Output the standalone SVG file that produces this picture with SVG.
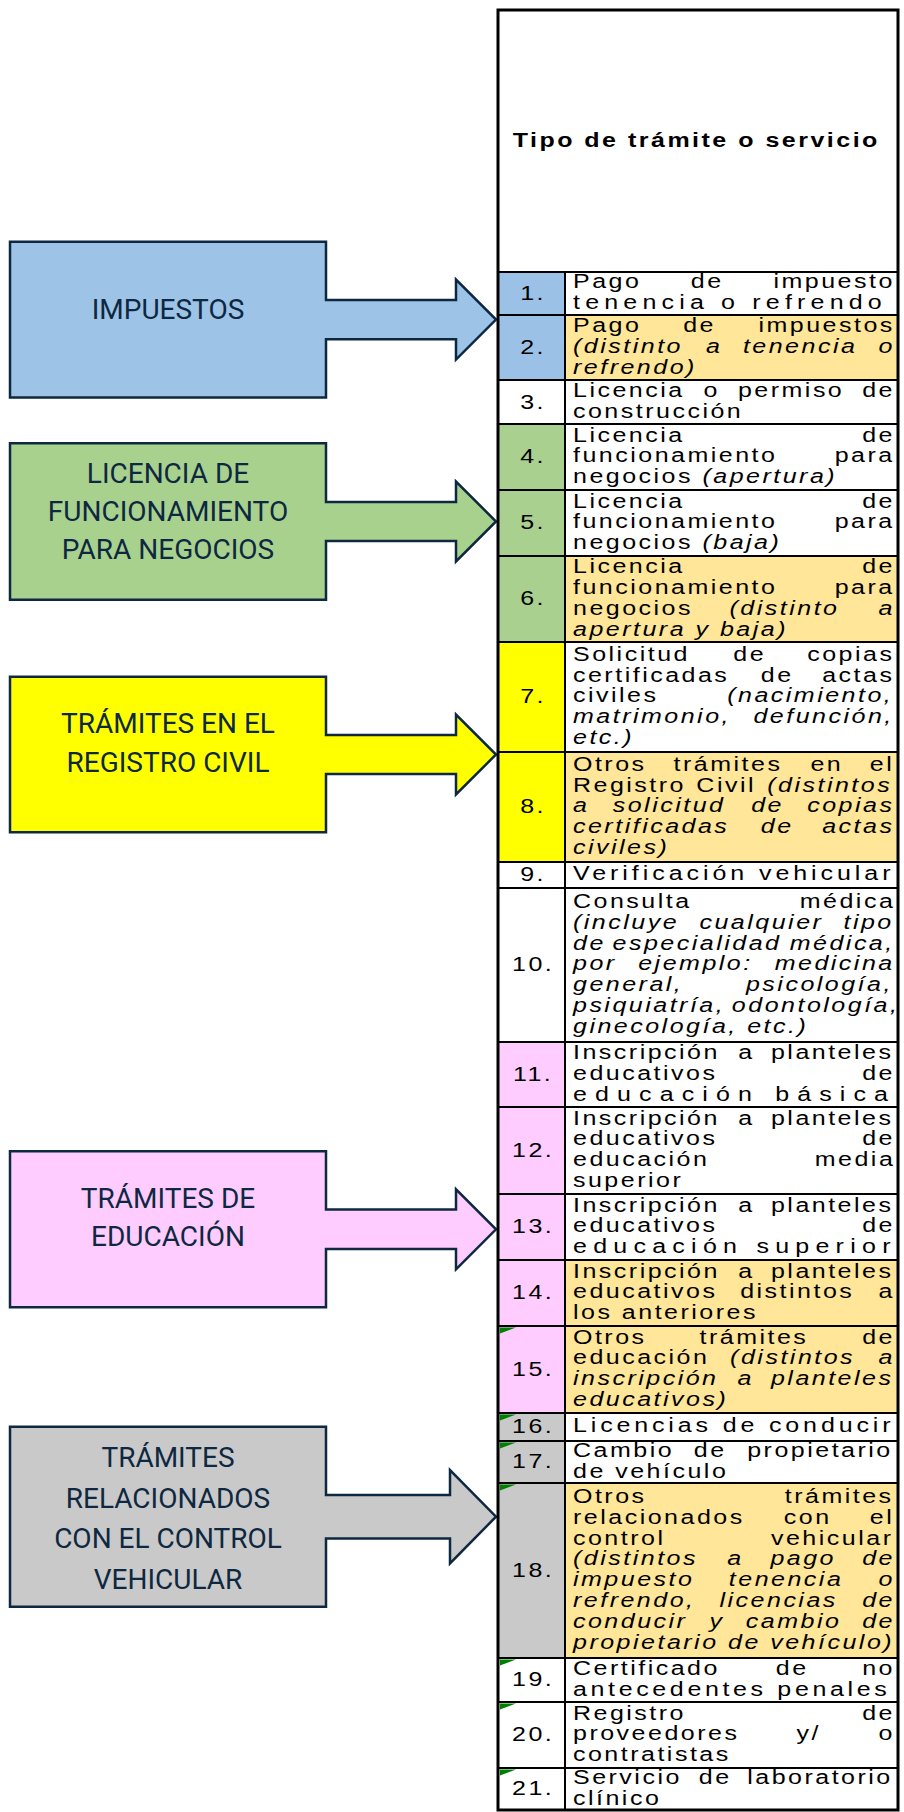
<svg xmlns="http://www.w3.org/2000/svg" width="904" height="1812" viewBox="0 0 904 1812">
<style>
.t{font-family:"Liberation Sans",Arial,sans-serif;font-size:20px;letter-spacing:2px;fill:#000}
.i{font-style:italic}
.n{text-anchor:middle}
.h{font-weight:bold;letter-spacing:2px;text-anchor:middle}
.bx{font-family:Roboto,"Liberation Sans",sans-serif;font-size:28px;fill:#0e2841;text-anchor:middle}
.co{stroke:#0e2841;stroke-width:2.5;stroke-linejoin:miter}
.ln{stroke:#000;stroke-width:2;fill:none}
.tri{fill:#008000}
</style>
<rect width="904" height="1812" fill="#fff"/>

<g id="callouts">
<g id="c-impuestos">
<polygon class="co" fill="#9dc3e6" points="10,241.7 326,241.7 326,300 456,300 456,279.6 496,319.6 456,359.6 456,339.2 326,339.2 326,397.5 10,397.5"/>
<text class="bx" x="168" y="318.5">IMPUESTOS</text>
</g>
<g id="c-licencia">
<polygon class="co" fill="#a9d18e" points="10,443.3 326,443.3 326,501.9 456,501.9 456,481.5 496,521.5 456,561.5 456,541.1 326,541.1 326,599.7 10,599.7"/>
<text class="bx" x="168" y="482.7">LICENCIA DE</text>
<text class="bx" x="168" y="520.7">FUNCIONAMIENTO</text>
<text class="bx" x="168" y="558.7">PARA NEGOCIOS</text>
</g>
<g id="c-registro">
<polygon class="co" fill="#ffff00" points="10,676.7 326,676.7 326,735 456,735 456,714.5 496,754.5 456,794.5 456,774 326,774 326,832.3 10,832.3"/>
<text class="bx" x="168" y="733.3">TRÁMITES EN EL</text>
<text class="bx" x="168" y="771.7">REGISTRO CIVIL</text>
</g>
<g id="c-educacion">
<polygon class="co" fill="#ffccff" points="10,1151.3 326,1151.3 326,1209.6 456,1209.6 456,1189.3 496,1229.3 456,1269.3 456,1249 326,1249 326,1307.3 10,1307.3"/>
<text class="bx" x="168" y="1207.7">TRÁMITES DE</text>
<text class="bx" x="168" y="1245.7">EDUCACIÓN</text>
</g>
<g id="c-vehicular">
<polygon class="co" fill="#c9c9c9" points="10,1426.7 326,1426.7 326,1495 450,1495 450,1470 496,1516.7 450,1563.4 450,1538.4 326,1538.4 326,1606.7 10,1606.7"/>
<text class="bx" x="168" y="1467">TRÁMITES</text>
<text class="bx" x="168" y="1507.5">RELACIONADOS</text>
<text class="bx" x="168" y="1548">CON EL CONTROL</text>
<text class="bx" x="168" y="1588.5">VEHICULAR</text>
</g>
</g>

<g id="table">
<g id="fills">
<rect x="498" y="272" width="67" height="108" fill="#9bc2e6"/>
<rect x="565" y="315" width="333" height="65" fill="#ffe699"/>
<rect x="498" y="424" width="67" height="218" fill="#a9d08e"/>
<rect x="565" y="556" width="333" height="86" fill="#ffe699"/>
<rect x="498" y="642" width="67" height="220" fill="#ffff00"/>
<rect x="565" y="752" width="333" height="110" fill="#ffe699"/>
<rect x="498" y="1042" width="67" height="371" fill="#ffccff"/>
<rect x="565" y="1260" width="333" height="153" fill="#ffe699"/>
<rect x="498" y="1413" width="67" height="245" fill="#c9c9c9"/>
<rect x="565" y="1483" width="333" height="175" fill="#ffe699"/>
</g>
<g id="grid">
<path class="ln" d="M498 272H898M498 315H898M498 380H898M498 424H898M498 490H898M498 556H898M498 642H898M498 752H898M498 862H898M498 888H898M498 1042H898M498 1107H898M498 1194H898M498 1260H898M498 1326H898M498 1413H898M498 1441H898M498 1483H898M498 1658H898M498 1702H898M498 1768H898"/>
<path class="ln" d="M565 272V1810" stroke-width="2.5"/>
<rect x="498" y="10" width="400" height="1800" fill="none" stroke="#000" stroke-width="3"/>
</g>
<g id="flags">
<polygon class="tri" points="500,1327.5 516,1327.5 500,1333.5"/>
<polygon class="tri" points="500,1414.5 516,1414.5 500,1420.5"/>
<polygon class="tri" points="500,1442.5 516,1442.5 500,1448.5"/>
<polygon class="tri" points="500,1484.5 516,1484.5 500,1490.5"/>
<polygon class="tri" points="500,1659.5 516,1659.5 500,1665.5"/>
<polygon class="tri" points="500,1703.5 516,1703.5 500,1709.5"/>
<polygon class="tri" points="500,1769.5 516,1769.5 500,1775.5"/>
</g>
<g id="texts" transform="scale(1.25,1)">
<text class="t h" x="557" y="147">Tipo de trámite o servicio</text>

<g id="nums" class="t n">
<text x="426.5" y="300">1.</text>
<text x="426.5" y="354">2.</text>
<text x="426.5" y="408.5">3.</text>
<text x="426.5" y="463.5">4.</text>
<text x="426.5" y="529.5">5.</text>
<text x="426.5" y="605.5">6.</text>
<text x="426.5" y="703.5">7.</text>
<text x="426.5" y="813.5">8.</text>
<text x="426.5" y="881.5">9.</text>
<text x="426.5" y="971.5">10.</text>
<text x="426.5" y="1081">11.</text>
<text x="426.5" y="1157">12.</text>
<text x="426.5" y="1233.5">13.</text>
<text x="426.5" y="1299.5">14.</text>
<text x="426.5" y="1376">15.</text>
<text x="426.5" y="1433.5">16.</text>
<text x="426.5" y="1468.5">17.</text>
<text x="426.5" y="1577">18.</text>
<text x="426.5" y="1686.5">19.</text>
<text x="426.5" y="1741.5">20.</text>
<text x="426.5" y="1795.5">21.</text>
</g>

<g id="r1" class="t">
<text y="288.5"><tspan x="458.4">Pago</tspan><tspan x="552.59">de</tspan><tspan x="618.77">impuesto</tspan></text>
<text x="458.4" y="309.3" textLength="249" lengthAdjust="spacing">tenencia o refrendo</text>
</g>
<g id="r2" class="t">
<text y="332.1"><tspan x="458.4">Pago</tspan><tspan x="546.59">de</tspan><tspan x="606.77">impuestos</tspan></text>
<text y="352.9" class="i"><tspan x="458.4">(distinto</tspan><tspan x="564.86">a</tspan><tspan x="594.31">tenencia</tspan><tspan x="702.79">o</tspan></text>
<text x="458.4" y="373.7" class="i">refrendo)</text>
</g>
<g id="r3" class="t">
<text y="397"><tspan x="458.4">Licencia</tspan><tspan x="562.87">o</tspan><tspan x="590.33">permiso</tspan><tspan x="689.78">de</tspan></text>
<text x="458.4" y="417.8">construcción</text>
</g>
<g id="r4" class="t">
<text y="441.6"><tspan x="458.4">Licencia</tspan><tspan x="689.78">de</tspan></text>
<text y="462.4"><tspan x="458.4">funcionamiento</tspan><tspan x="667.78">para</tspan></text>
<text x="458.4" y="483.2">negocios <tspan class="i">(apertura)</tspan></text>
</g>
<g id="r5" class="t">
<text y="507.6"><tspan x="458.4">Licencia</tspan><tspan x="689.78">de</tspan></text>
<text y="528.4"><tspan x="458.4">funcionamiento</tspan><tspan x="667.78">para</tspan></text>
<text x="458.4" y="549.2">negocios <tspan class="i">(baja)</tspan></text>
</g>
<g id="r6" class="t">
<text y="573.2"><tspan x="458.4">Licencia</tspan><tspan x="689.78">de</tspan></text>
<text y="594"><tspan x="458.4">funcionamiento</tspan><tspan x="667.78">para</tspan></text>
<text y="614.8"><tspan x="458.4">negocios</tspan><tspan x="583.61" class="i">(distinto</tspan><tspan x="702.79" class="i">a</tspan></text>
<text x="458.4" y="635.6" class="i">apertura y baja)</text>
</g>
<g id="r7" class="t">
<text y="660.8"><tspan x="458.4">Solicitud</tspan><tspan x="586.59">de</tspan><tspan x="645.78">copias</tspan></text>
<text y="681.6"><tspan x="458.4">certificadas</tspan><tspan x="608.6">de</tspan><tspan x="657.78">actas</tspan></text>
<text y="702.4"><tspan x="458.4">civiles</tspan><tspan x="581.77" class="i">(nacimiento,</tspan></text>
<text y="723.2" class="i"><tspan x="458.4">matrimonio,</tspan><tspan x="602.75">defunción,</tspan></text>
<text x="458.4" y="744" class="i">etc.)</text>
</g>
<g id="r8" class="t">
<text y="770.8"><tspan x="458.4">Otros</tspan><tspan x="538.86">trámites</tspan><tspan x="648.32">en</tspan><tspan x="695.8">el</tspan></text>
<text y="791.6"><tspan x="458.4">Registro</tspan><tspan x="557.11">Civil</tspan><tspan x="613.78" class="i">(distintos</tspan></text>
<text y="812.4" class="i"><tspan x="458.4">a</tspan><tspan x="490.19">solicitud</tspan><tspan x="600.99">de</tspan><tspan x="645.78">copias</tspan></text>
<text y="833.2" class="i"><tspan x="458.4">certificadas</tspan><tspan x="608.6">de</tspan><tspan x="657.78">actas</tspan></text>
<text x="458.4" y="854" class="i">civiles)</text>
</g>
<g id="r9" class="t">
<text x="458.4" y="880.4" textLength="256" lengthAdjust="spacing">Verificación vehicular</text>
</g>
<g id="r10" class="t">
<text y="908"><tspan x="458.4">Consulta</tspan><tspan x="639.79">médica</tspan></text>
<text y="928.8" class="i"><tspan x="458.4">(incluye</tspan><tspan x="559.58">cualquier</tspan><tspan x="674.78">tipo</tspan></text>
<text y="949.6" class="i"><tspan x="458.4">de</tspan><tspan x="490.08">especialidad</tspan><tspan x="631.78">médica,</tspan></text>
<text y="970.4" class="i"><tspan x="458.4">por</tspan><tspan x="510.59">ejemplo:</tspan><tspan x="619.78">medicina</tspan></text>
<text y="991.2" class="i"><tspan x="458.4">general,</tspan><tspan x="596.76">psicología,</tspan></text>
<text y="1012" class="i"><tspan x="458.4">psiquiatría,</tspan><tspan x="585.5">odontología,</tspan></text>
<text x="458.4" y="1032.8" class="i">ginecología, etc.)</text>
</g>
<g id="r11" class="t">
<text y="1059.1"><tspan x="458.4">Inscripción</tspan><tspan x="590.59">a</tspan><tspan x="616.76">planteles</tspan></text>
<text y="1079.9"><tspan x="458.4">educativos</tspan><tspan x="689.78">de</tspan></text>
<text x="458.4" y="1100.7" textLength="254" lengthAdjust="spacing">educación básica</text>
</g>
<g id="r12" class="t">
<text y="1124.7"><tspan x="458.4">Inscripción</tspan><tspan x="590.59">a</tspan><tspan x="616.76">planteles</tspan></text>
<text y="1145.5"><tspan x="458.4">educativos</tspan><tspan x="689.78">de</tspan></text>
<text y="1166.3"><tspan x="458.4">educación</tspan><tspan x="651.79">media</tspan></text>
<text x="458.4" y="1187.1">superior</text>
</g>
<g id="r13" class="t">
<text y="1211.6"><tspan x="458.4">Inscripción</tspan><tspan x="590.59">a</tspan><tspan x="616.76">planteles</tspan></text>
<text y="1232.4"><tspan x="458.4">educativos</tspan><tspan x="689.78">de</tspan></text>
<text x="458.4" y="1253.2" textLength="256" lengthAdjust="spacing">educación superior</text>
</g>
<g id="r14" class="t">
<text y="1277.6"><tspan x="458.4">Inscripción</tspan><tspan x="590.59">a</tspan><tspan x="616.76">planteles</tspan></text>
<text y="1298.4"><tspan x="458.4">educativos</tspan><tspan x="592.11">distintos</tspan><tspan x="702.79">a</tspan></text>
<text x="458.4" y="1319.2">los anteriores</text>
</g>
<g id="r15" class="t">
<text y="1343.7"><tspan x="458.4">Otros</tspan><tspan x="559.59">trámites</tspan><tspan x="689.78">de</tspan></text>
<text y="1364.5"><tspan x="458.4">educación</tspan><tspan x="584.11" class="i">(distintos</tspan><tspan x="702.79" class="i">a</tspan></text>
<text y="1385.3" class="i"><tspan x="458.4">inscripción</tspan><tspan x="590.08">a</tspan><tspan x="616.76">planteles</tspan></text>
<text x="458.4" y="1406.1" class="i">educativos)</text>
</g>
<g id="r16" class="t">
<text x="458.4" y="1432.4" textLength="256" lengthAdjust="spacing">Licencias de conducir</text>
</g>
<g id="r17" class="t">
<text y="1457"><tspan x="458.4">Cambio</tspan><tspan x="555.08">de</tspan><tspan x="597.77">propietario</tspan></text>
<text x="458.4" y="1477.8">de vehículo</text>
</g>
<g id="r18" class="t">
<text y="1503.1"><tspan x="458.4">Otros</tspan><tspan x="627.79">trámites</tspan></text>
<text y="1523.9"><tspan x="458.4">relacionados</tspan><tspan x="627.11">con</tspan><tspan x="695.8">el</tspan></text>
<text y="1544.7"><tspan x="458.4">control</tspan><tspan x="616.78">vehicular</tspan></text>
<text y="1565.5" class="i"><tspan x="458.4">(distintos</tspan><tspan x="581.86">a</tspan><tspan x="616.31">pago</tspan><tspan x="689.78">de</tspan></text>
<text y="1586.3" class="i"><tspan x="458.4">impuesto</tspan><tspan x="583.09">tenencia</tspan><tspan x="702.79">o</tspan></text>
<text y="1607.1" class="i"><tspan x="458.4">refrendo,</tspan><tspan x="575.61">licencias</tspan><tspan x="689.78">de</tspan></text>
<text y="1627.9" class="i"><tspan x="458.4">conducir</tspan><tspan x="567.54">y</tspan><tspan x="596.66">cambio</tspan><tspan x="689.78">de</tspan></text>
<text x="458.4" y="1648.7" class="i">propietario de vehículo)</text>
</g>
<g id="r19" class="t">
<text y="1675"><tspan x="458.4">Certificado</tspan><tspan x="620.59">de</tspan><tspan x="689.78">no</tspan></text>
<text x="458.4" y="1695.8" textLength="253" lengthAdjust="spacing">antecedentes penales</text>
</g>
<g id="r20" class="t">
<text y="1719.6"><tspan x="458.4">Registro</tspan><tspan x="689.78">de</tspan></text>
<text y="1740.4"><tspan x="458.4">proveedores</tspan><tspan x="637.12">y/</tspan><tspan x="702.79">o</tspan></text>
<text x="458.4" y="1761.2">contratistas</text>
</g>
<g id="r21" class="t">
<text y="1784"><tspan x="458.4">Servicio</tspan><tspan x="559.08">de</tspan><tspan x="597.77">laboratorio</tspan></text>
<text x="458.4" y="1804.8">clínico</text>
</g>
</g>
</g>
<g id="connectors"/>
</svg>
